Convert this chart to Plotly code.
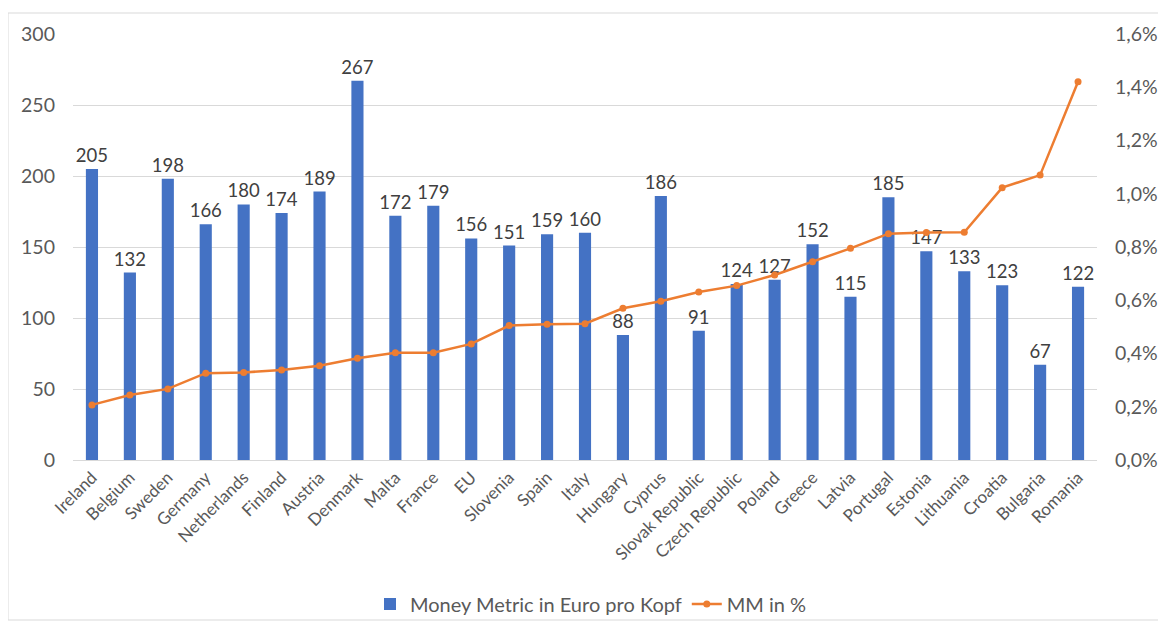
import plotly.graph_objects as go

countries = ["Ireland", "Belgium", "Sweden", "Germany", "Netherlands", "Finland", "Austria",
             "Denmark", "Malta", "France", "EU", "Slovenia", "Spain", "Italy", "Hungary",
             "Cyprus", "Slovak Republic", "Czech Republic", "Poland", "Greece", "Latvia",
             "Portugal", "Estonia", "Lithuania", "Croatia", "Bulgaria", "Romania"]
money_metric = [205, 132, 198, 166, 180, 174, 189, 267, 172, 179, 156, 151, 159, 160, 88,
                186, 91, 124, 127, 152, 115, 185, 147, 133, 123, 67, 122]
mm_pct = [0.00207, 0.00244, 0.00267, 0.00326, 0.00329, 0.00338, 0.00354, 0.00382, 0.00403,
          0.00403, 0.00436, 0.00505, 0.00510, 0.00512, 0.00570, 0.00596, 0.00631, 0.00655,
          0.00695, 0.00745, 0.00795, 0.00850, 0.00854, 0.00855, 0.01023, 0.01070, 0.01421]

left_ticks = [0, 50, 100, 150, 200, 250, 300]
right_ticks = [0, 0.002, 0.004, 0.006, 0.008, 0.010, 0.012, 0.014, 0.016]

FONT = "Lato, 'Noto Sans', sans-serif"
TXT = "#595959"
W, H = 1166, 623
OFF = 8  # page body margin offset
L, T = 73 - OFF, 34 - OFF
pw, ph = 1024, 426
R, B = W - L - pw, H - T - ph

def py(page_y):
    return (T + ph - (page_y - OFF)) / ph

def px(page_x):
    return (page_x - OFF - L) / pw

fig = go.Figure()
fig.add_trace(go.Bar(
    x=countries, y=money_metric, name="Money Metric in Euro pro Kopf",
    marker=dict(color="#4472C4", line=dict(width=0)),
    width=0.32, text=money_metric, textposition="outside", cliponaxis=False,
    constraintext="none",
    textfont=dict(size=18.5, color="#404040", family=FONT),
))
fig.add_trace(go.Scatter(
    x=countries, y=mm_pct, name="MM in %", yaxis="y2", mode="lines+markers",
    line=dict(color="#ED7D31", width=2.5), marker=dict(color="#ED7D31", size=7),
))

fig.update_layout(
    width=W, height=H,
    margin=dict(l=L, r=R, t=T, b=B, autoexpand=False),
    paper_bgcolor="white", plot_bgcolor="white",
    font=dict(family=FONT, color=TXT, size=17),
    separators=",.",
    xaxis=dict(tickangle=-45, tickfont=dict(size=17, color=TXT), showgrid=False,
               showline=True, linecolor="#d9d9d9", ticks="", automargin=False,
               range=[-0.5, len(countries) - 0.5]),
    yaxis=dict(range=[0, 300], tickvals=left_ticks, gridcolor="#d9d9d9", zeroline=False,
               tickfont=dict(size=19.5, color=TXT), ticks="", showline=False,
               ticklabelstandoff=17, automargin=False),
    yaxis2=dict(range=[0, 0.016], tickvals=right_ticks, tickformat=".1%", overlaying="y",
                side="right", showgrid=False, zeroline=False,
                tickfont=dict(size=19.5, color=TXT), ticks="", ticklabelstandoff=17,
                automargin=False),
    legend=dict(orientation="h", x=px(591), xanchor="center", y=py(604),
                yanchor="middle", font=dict(size=20, color=TXT), itemwidth=30,
                traceorder="normal", bgcolor="rgba(0,0,0,0)"),
    showlegend=True,
)

# outer chart frame
fig.add_shape(type="rect", xref="paper", yref="paper",
              x0=px(8), x1=px(1160), y0=py(620), y1=py(13),
              line=dict(color="#d9d9d9", width=1), layer="below")

fig.write_html("out.html")
